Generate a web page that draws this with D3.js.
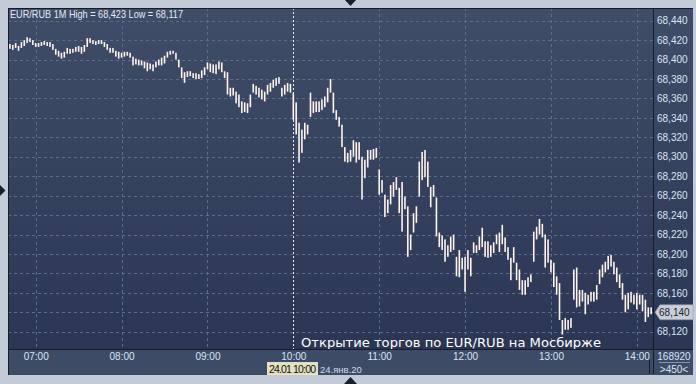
<!DOCTYPE html>
<html><head><meta charset="utf-8">
<script src="https://cdn.jsdelivr.net/npm/d3@7"></script>
<style>html,body{margin:0;padding:0;background:#c3cbd6;}svg{display:block}</style>
</head><body><svg id="c" width="696" height="384"></svg>
<script>
const titleText = "EUR/RUB 1M High = 68,423 Low = 68,117";
const startMinute = 6 * 60 + 42;
const stepMinutes = 2;
const highs = [
68.416,68.415,68.417,68.414,68.418,68.420,68.423,68.422,68.420,68.417,
68.417,68.418,68.419,68.418,68.418,68.416,68.411,68.409,68.407,68.408,
68.412,68.411,68.411,68.413,68.414,68.413,68.415,68.422,68.422,68.420,
68.419,68.420,68.420,68.418,68.416,68.412,68.412,68.409,68.408,68.407,
68.408,68.408,68.407,68.403,68.401,68.400,68.399,68.398,68.397,68.396,
68.395,68.398,68.400,68.402,68.404,68.408,68.409,68.409,68.407,68.400,
68.392,68.387,68.388,68.388,68.386,68.386,68.385,68.389,68.392,68.397,
68.396,68.395,68.395,68.398,68.397,68.388,68.387,68.371,68.371,68.367,
68.364,68.357,68.356,68.355,68.364,68.375,68.373,68.371,68.369,68.367,
68.374,68.376,68.379,68.381,68.382,68.371,68.374,68.376,68.375,68.366,
68.356,68.335,68.328,68.335,68.333,68.366,68.357,68.357,68.357,68.359,
68.362,68.371,68.380,68.366,68.348,68.341,68.333,68.310,68.304,68.307,
68.317,68.315,68.315,68.300,68.297,68.307,68.307,68.308,68.309,68.287,
68.276,68.261,68.256,68.271,68.274,68.279,68.268,68.274,68.259,68.249,
68.220,68.242,68.249,68.295,68.305,68.307,68.295,68.269,68.271,68.258,
68.222,68.219,68.215,68.209,68.218,68.220,68.197,68.204,68.196,68.197,
68.204,68.196,68.212,68.209,68.218,68.227,68.213,68.213,68.209,68.212,
68.220,68.222,68.230,68.217,68.207,68.196,68.207,68.191,68.184,68.173,
68.173,68.176,68.179,68.223,68.228,68.236,68.231,68.220,68.215,68.194,
68.191,68.177,68.170,68.132,68.134,68.132,68.134,68.184,68.186,68.163,
68.163,68.160,68.158,68.161,68.161,68.168,68.184,68.189,68.192,68.198,
68.199,68.192,68.186,68.179,68.170,68.158,68.160,68.161,68.158,68.160,
68.158,68.158,68.153,68.145,68.145
];
const lows = [
68.411,68.410,68.412,68.409,68.412,68.414,68.417,68.418,68.415,68.413,
68.413,68.414,68.415,68.414,68.413,68.410,68.405,68.403,68.401,68.402,
68.406,68.406,68.407,68.408,68.408,68.406,68.408,68.413,68.417,68.416,
68.415,68.416,68.416,68.413,68.410,68.407,68.407,68.403,68.401,68.402,
68.403,68.404,68.402,68.394,68.395,68.394,68.394,68.391,68.388,68.390,
68.388,68.392,68.394,68.394,68.396,68.402,68.405,68.406,68.400,68.392,
68.381,68.376,68.382,68.383,68.381,68.380,68.380,68.381,68.384,68.390,
68.387,68.386,68.385,68.390,68.387,68.381,68.364,68.362,68.363,68.355,
68.351,68.345,68.346,68.345,68.351,68.366,68.364,68.361,68.359,68.357,
68.364,68.367,68.371,68.373,68.375,68.362,68.364,68.367,68.366,68.338,
68.323,68.294,68.304,68.318,68.323,68.341,68.345,68.346,68.346,68.348,
68.351,68.356,68.366,68.345,68.338,68.331,68.310,68.295,68.294,68.295,
68.300,68.294,68.297,68.256,68.278,68.289,68.297,68.297,68.299,68.261,
68.263,68.238,68.242,68.251,68.259,68.266,68.242,68.223,68.246,68.197,
68.204,68.222,68.232,68.259,68.276,68.279,68.269,68.248,68.259,68.218,
68.207,68.204,68.192,68.197,68.202,68.204,68.177,68.176,68.184,68.161,
68.184,68.177,68.201,68.201,68.204,68.207,68.197,68.196,68.197,68.201,
68.210,68.202,68.210,68.202,68.194,68.173,68.191,68.173,68.163,68.158,
68.158,68.166,68.171,68.192,68.215,68.220,68.217,68.186,68.191,68.181,
68.166,68.158,68.132,68.117,68.122,68.122,68.124,68.153,68.145,68.146,
68.151,68.138,68.148,68.151,68.151,68.153,68.169,68.176,68.181,68.184,
68.187,68.179,68.171,68.165,68.153,68.140,68.143,68.150,68.148,68.143,
68.148,68.141,68.130,68.135,68.138
];
const xTickMinutes = [420, 480, 540, 600, 660, 720, 780, 840];
const xTickLabels = ["07:00", "08:00", "09:00", "10:00", "11:00", "12:00", "13:00", "14:00"];
const yTickValues = [68.12,68.14,68.16,68.18,68.20,68.22,68.24,68.26,68.28,68.30,68.32,68.34,68.36,68.38,68.40,68.42,68.44];
const lastPrice = 68.140;
const volumeText = "168920";
const barsText = ">450<";
const annotationText = "Открытие торгов по EUR/RUB на Мосбирже";
const cursorMinute = 600;
const cursorLabel = "24.01 10:00";
const dateLabel = "24.янв.20";

const svg = d3.select("#c");
const W = 696, H = 384;
const L = 8, T = 8, PR = 653.5, PB = 349.5, RR = 693, BB = 375;

const x = d3.scaleLinear().domain([420, 840]).range([35.7, 636.8]);
const y = d3.scaleLinear().domain([68.12, 68.44]).range([331.7, 20.7]);
const fmt = v => d3.format(".3f")(v).replace(".", ",");

const defs = svg.append("defs");
const g1 = defs.append("linearGradient").attr("id", "bg").attr("x1", 0).attr("y1", 0).attr("x2", 0).attr("y2", 1);
g1.append("stop").attr("offset", 0).attr("stop-color", "#404d68");
g1.append("stop").attr("offset", 1).attr("stop-color", "#2a3654");

svg.append("rect").attr("width", W).attr("height", H).attr("fill", "#c3cbd6");
svg.append("rect").attr("x", L).attr("y", T).attr("width", RR - L).attr("height", BB - T).attr("fill", "#3d4b67");
svg.append("rect").attr("x", L).attr("y", T).attr("width", RR - L).attr("height", PB - T).attr("fill", "url(#bg)");

// grid
const grid = svg.append("g").attr("stroke", "#5d6c8a").attr("stroke-dasharray", "3,3").attr("stroke-width", 1);
grid.selectAll("line.h").data(yTickValues).join("line")
  .attr("x1", L).attr("x2", PR).attr("y1", d => Math.round(y(d)) + 0.5).attr("y2", d => Math.round(y(d)) + 0.5);
grid.selectAll("line.v").data(xTickMinutes.filter(m => m !== cursorMinute)).join("line")
  .attr("y1", T).attr("y2", PB).attr("x1", d => Math.round(x(d)) + 0.5).attr("x2", d => Math.round(x(d)) + 0.5);

// cursor line
svg.append("line").attr("x1", Math.round(x(cursorMinute)) + 0.5).attr("x2", Math.round(x(cursorMinute)) + 0.5)
  .attr("y1", T).attr("y2", PB).attr("stroke", "#f0f0f0").attr("stroke-dasharray", "2,2");

// bars
const bars = highs.map((h, i) => ({ t: startMinute + i * stepMinutes, h, l: lows[i] }));
svg.append("g").selectAll("rect").data(bars).join("rect")
  .attr("x", d => x(d.t) - 0.8).attr("width", 1.6)
  .attr("y", d => y(d.h)).attr("height", d => Math.max(1, y(d.l) - y(d.h)))
  .attr("fill", "#fff4ee");

// title
svg.append("text").attr("x", 10).attr("y", 18).text(titleText)
  .attr("font-family", "Liberation Sans, Arial, sans-serif").attr("font-size", 11)
  .attr("fill", "#e4eaf4").attr("textLength", 173).attr("lengthAdjust", "spacingAndGlyphs");

// annotation
svg.append("text").attr("x", 301).attr("y", 347).text(annotationText)
  .attr("font-family", "DejaVu Sans, sans-serif").attr("font-size", 12.5)
  .attr("fill", "#ffffff").attr("textLength", 300).attr("lengthAdjust", "spacingAndGlyphs");

// borders
const bl = svg.append("g").attr("stroke", "#161c2a").attr("stroke-width", 1);
bl.append("line").attr("x1", L + 0.5).attr("x2", L + 0.5).attr("y1", T).attr("y2", BB);
bl.append("line").attr("x1", L).attr("x2", RR).attr("y1", T + 0.5).attr("y2", T + 0.5);
bl.append("line").attr("x1", L).attr("x2", RR).attr("y1", PB).attr("y2", PB);
bl.append("line").attr("x1", PR).attr("x2", PR).attr("y1", T).attr("y2", BB - 1);
bl.append("line").attr("x1", 649.5).attr("x2", 649.5).attr("y1", 360).attr("y2", BB - 1);

// y axis (the last-price tag carries its own label)
const yAxis = svg.append("g").attr("transform", `translate(${PR},0)`)
  .call(d3.axisRight(y).tickValues(yTickValues.filter(v => Math.abs(v - lastPrice) > 1e-9)).tickSize(0).tickPadding(3.5).tickFormat(fmt));
yAxis.select(".domain").remove();
yAxis.selectAll("text").attr("font-family", "Liberation Sans, Arial, sans-serif").attr("font-size", 10).attr("fill", "#d8e4f6");

// x axis
const xAxis = svg.append("g").attr("transform", `translate(0,${PB})`)
  .call(d3.axisBottom(x).tickValues(xTickMinutes).tickSize(0).tickPadding(3).tickFormat((d, i) => xTickLabels[i]));
xAxis.select(".domain").remove();
xAxis.selectAll("text").attr("font-family", "Liberation Sans, Arial, sans-serif").attr("font-size", 10).attr("fill", "#d8e4f6");

// last price tag
const yl = y(lastPrice);
svg.append("polygon")
  .attr("points", [[655, yl], [660, yl - 7.5], [RR, yl - 7.5], [RR, yl + 7.5], [660, yl + 7.5]].map(p => p.join(",")).join(" "))
  .attr("fill", "#c9ced6").attr("stroke", "#8f97a6").attr("stroke-width", 0.6);
svg.append("text").attr("x", 659).attr("y", yl).attr("dy", "0.34em").text(fmt(lastPrice))
  .attr("font-family", "Liberation Sans, Arial, sans-serif").attr("font-size", 10).attr("fill", "#1c2230");

// right-bottom info
const info = svg.append("g").attr("font-family", "Liberation Sans, Arial, sans-serif").attr("font-size", 10).attr("fill", "#d8e4f6").attr("text-anchor", "middle");
info.append("text").attr("x", 674).attr("y", 360).text(volumeText);
info.append("text").attr("x", 674).attr("y", 373).text(barsText);
svg.append("line").attr("x1", 659).attr("x2", 690).attr("y1", 362.5).attr("y2", 362.5).attr("stroke", "#8795ad");

// cursor date label
svg.append("rect").attr("x", 267).attr("y", 362).attr("width", 51).attr("height", 13).attr("fill", "#e4e0c0");
svg.append("text").attr("x", 269).attr("y", 372.5).text(cursorLabel)
  .attr("font-family", "Liberation Sans, Arial, sans-serif").attr("font-size", 10.5).attr("fill", "#111").attr("textLength", 47);
svg.append("text").attr("x", 320).attr("y", 373).text(dateLabel)
  .attr("font-family", "Liberation Sans, Arial, sans-serif").attr("font-size", 9.5).attr("fill", "#d0dcee");

// frame triangles
const tri = svg.append("g").attr("fill", "#1a1f2c");
tri.append("polygon").attr("points", "345,0 356,0 350.5,6");
tri.append("polygon").attr("points", "344,384 357,384 350.5,377");
tri.append("polygon").attr("points", "0,185 0,196 5.5,190.5");
</script>
</body></html>
